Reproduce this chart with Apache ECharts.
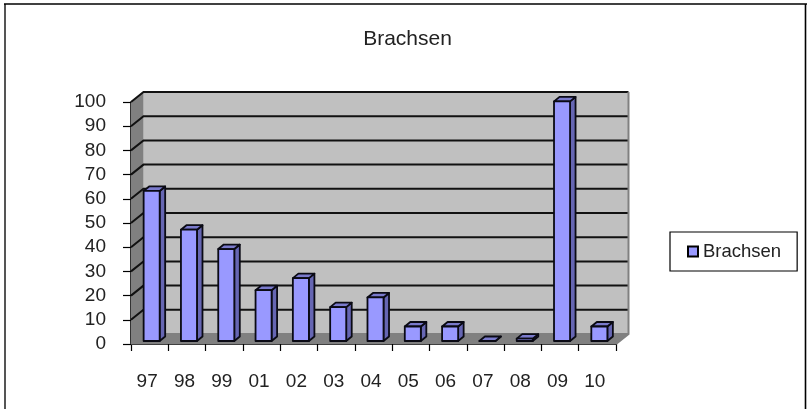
<!DOCTYPE html>
<html>
<head>
<meta charset="utf-8">
<style>
  html, body { margin: 0; padding: 0; background: #fff; }
  #chart { width: 807px; height: 409px; }
</style>
<script src="https://cdn.jsdelivr.net/npm/echarts@6/dist/echarts.min.js"></script>
</head>
<body>
<div id="chart"></div>
<script>
const years = ['97', '98', '99', '01', '02', '03', '04', '05', '06', '07', '08', '09', '10']
const brachsen = [62, 46, 38, 21, 26, 14, 18, 6, 6, 0, 1, 99, 6]
const yTicks = [0, 10, 20, 30, 40, 50, 60, 70, 80, 90, 100]

const chart = echarts.init(document.getElementById('chart'))

// depth of the fake 3d box, in pixels
const depthX = 12.5
const depthY = 10

function renderWalls (params, api) {
  const cs = params.coordSys
  const x0 = cs.x
  const x1 = cs.x + cs.width
  const yBase = api.coord([0, 0])[1]
  const yTop = api.coord([0, 100])[1]
  const children = [
    // back wall
    { type: 'rect', shape: { x: x0 + depthX, y: yTop - depthY, width: cs.width, height: yBase - yTop }, style: { fill: '#c0c0c0' } },
    // left wall
    { type: 'polygon', shape: { points: [[x0, yTop], [x0 + depthX, yTop - depthY], [x0 + depthX, yBase - depthY], [x0, yBase]] }, style: { fill: '#808080' } },
    // floor
    { type: 'polygon', shape: { points: [[x0, yBase], [x0 + depthX, yBase - depthY], [x1 + depthX, yBase - depthY], [x1, yBase]] }, style: { fill: '#808080' } }
  ]
  yTicks.forEach(function (t) {
    const y = api.coord([0, t])[1]
    children.push({
      type: 'polyline',
      shape: { points: [[x0, y], [x0 + depthX, y - depthY], [x1 + depthX, y - depthY]] },
      style: { fill: 'none', stroke: t === 0 ? '#808080' : '#111', lineWidth: 2 }
    })
  })
  children.push({
    type: 'polyline',
    shape: { points: [[x1 + depthX, yTop - depthY], [x1 + depthX, yBase - depthY], [x1, yBase]] },
    style: { fill: 'none', stroke: '#808080', lineWidth: 2 }
  })
  return { type: 'group', silent: true, children: children }
}

function renderBar (params, api) {
  const idx = api.value(0)
  const val = api.value(1)
  const band = api.size([1, 0])[0]
  const center = api.coord([idx, 0])
  const top = api.coord([idx, val])
  const w = band * 0.43
  const dx = 5.5
  const dy = 4.5
  // bars stand in the middle of the floor
  const left = center[0] - w / 2 + 2
  const right = left + w
  const yb = center[1] - 3
  const yt = top[1] - 3
  const border = { stroke: '#0a0a14', lineWidth: 1.8, lineJoin: 'round' }
  return {
    type: 'group',
    children: [
      { type: 'polygon', shape: { points: [[right, yb], [right + dx, yb - dy], [right + dx, yt - dy], [right, yt]] }, style: Object.assign({ fill: '#6666b3' }, border) },
      { type: 'polygon', shape: { points: [[left, yt], [left + dx, yt - dy], [right + dx, yt - dy], [right, yt]] }, style: Object.assign({ fill: '#7a7acc' }, border) },
      { type: 'rect', shape: { x: left, y: yt, width: w, height: yb - yt }, style: Object.assign({ fill: '#9999ff' }, border) }
    ]
  }
}

chart.setOption({
  animation: false,
  backgroundColor: '#fff',
  textStyle: { fontFamily: 'Liberation Sans' },
  title: {
    text: 'Brachsen',
    left: 402.5,
    top: 24,
    textAlign: 'center',
    textStyle: { color: '#222', fontSize: 21, fontWeight: 'normal', fontFamily: 'Liberation Sans' }
  },
  legend: {
    left: 670,
    top: 232,
    orient: 'vertical',
    padding: [10, 16, 10, 17],
    borderColor: '#000',
    borderWidth: 1.2,
    backgroundColor: '#fff',
    itemWidth: 10,
    itemHeight: 10,
    itemGap: 0,
    icon: 'rect',
    data: [{ name: 'Brachsen', itemStyle: { color: '#9999ff', borderColor: '#000', borderWidth: 2 } }],
    textStyle: { color: '#222', fontSize: 18.5, fontFamily: 'Liberation Sans' }
  },
  grid: { left: 131, right: 191, top: 102, bottom: 65, containLabel: false },
  xAxis: {
    type: 'category',
    data: years,
    axisLine: { show: true, lineStyle: { color: '#000', width: 1.6 } },
    axisTick: { show: true, alignWithLabel: false, length: 7, lineStyle: { color: '#000', width: 1.2 } },
    axisLabel: { color: '#222', fontSize: 19, margin: 28, interval: 0, padding: [0, 5, 0, 0] },
    splitLine: { show: false }
  },
  yAxis: {
    type: 'value',
    min: 0,
    max: 100,
    interval: 10,
    axisLine: { show: true, lineStyle: { color: '#000', width: 1.6 } },
    axisTick: { show: true, length: 8, lineStyle: { color: '#000', width: 1.2 } },
    axisLabel: { color: '#222', fontSize: 19, margin: 25 },
    splitLine: { show: false }
  },
  series: [
    {
      type: 'custom',
      name: 'walls',
      silent: true,
      z: 1,
      renderItem: renderWalls,
      data: [[0, 0]],
      encode: { x: 0, y: 1 }
    },
    {
      type: 'custom',
      name: 'Brachsen',
      z: 2,
      renderItem: renderBar,
      data: brachsen.map(function (v, i) { return [i, v] }),
      encode: { x: 0, y: 1 },
      itemStyle: { color: '#9999ff' }
    }
  ],
  graphic: [
    { type: 'line', silent: true, shape: { x1: 5, y1: 4, x2: 5, y2: 409 }, style: { stroke: '#555', lineWidth: 2 } },
    { type: 'line', silent: true, shape: { x1: 4, y1: 4, x2: 807, y2: 4 }, style: { stroke: '#000', lineWidth: 1.6 } },
    { type: 'line', silent: true, shape: { x1: 805.5, y1: 4, x2: 805.5, y2: 409 }, style: { stroke: '#000', lineWidth: 1.6 } }
  ]
})
</script>
</body>
</html>
